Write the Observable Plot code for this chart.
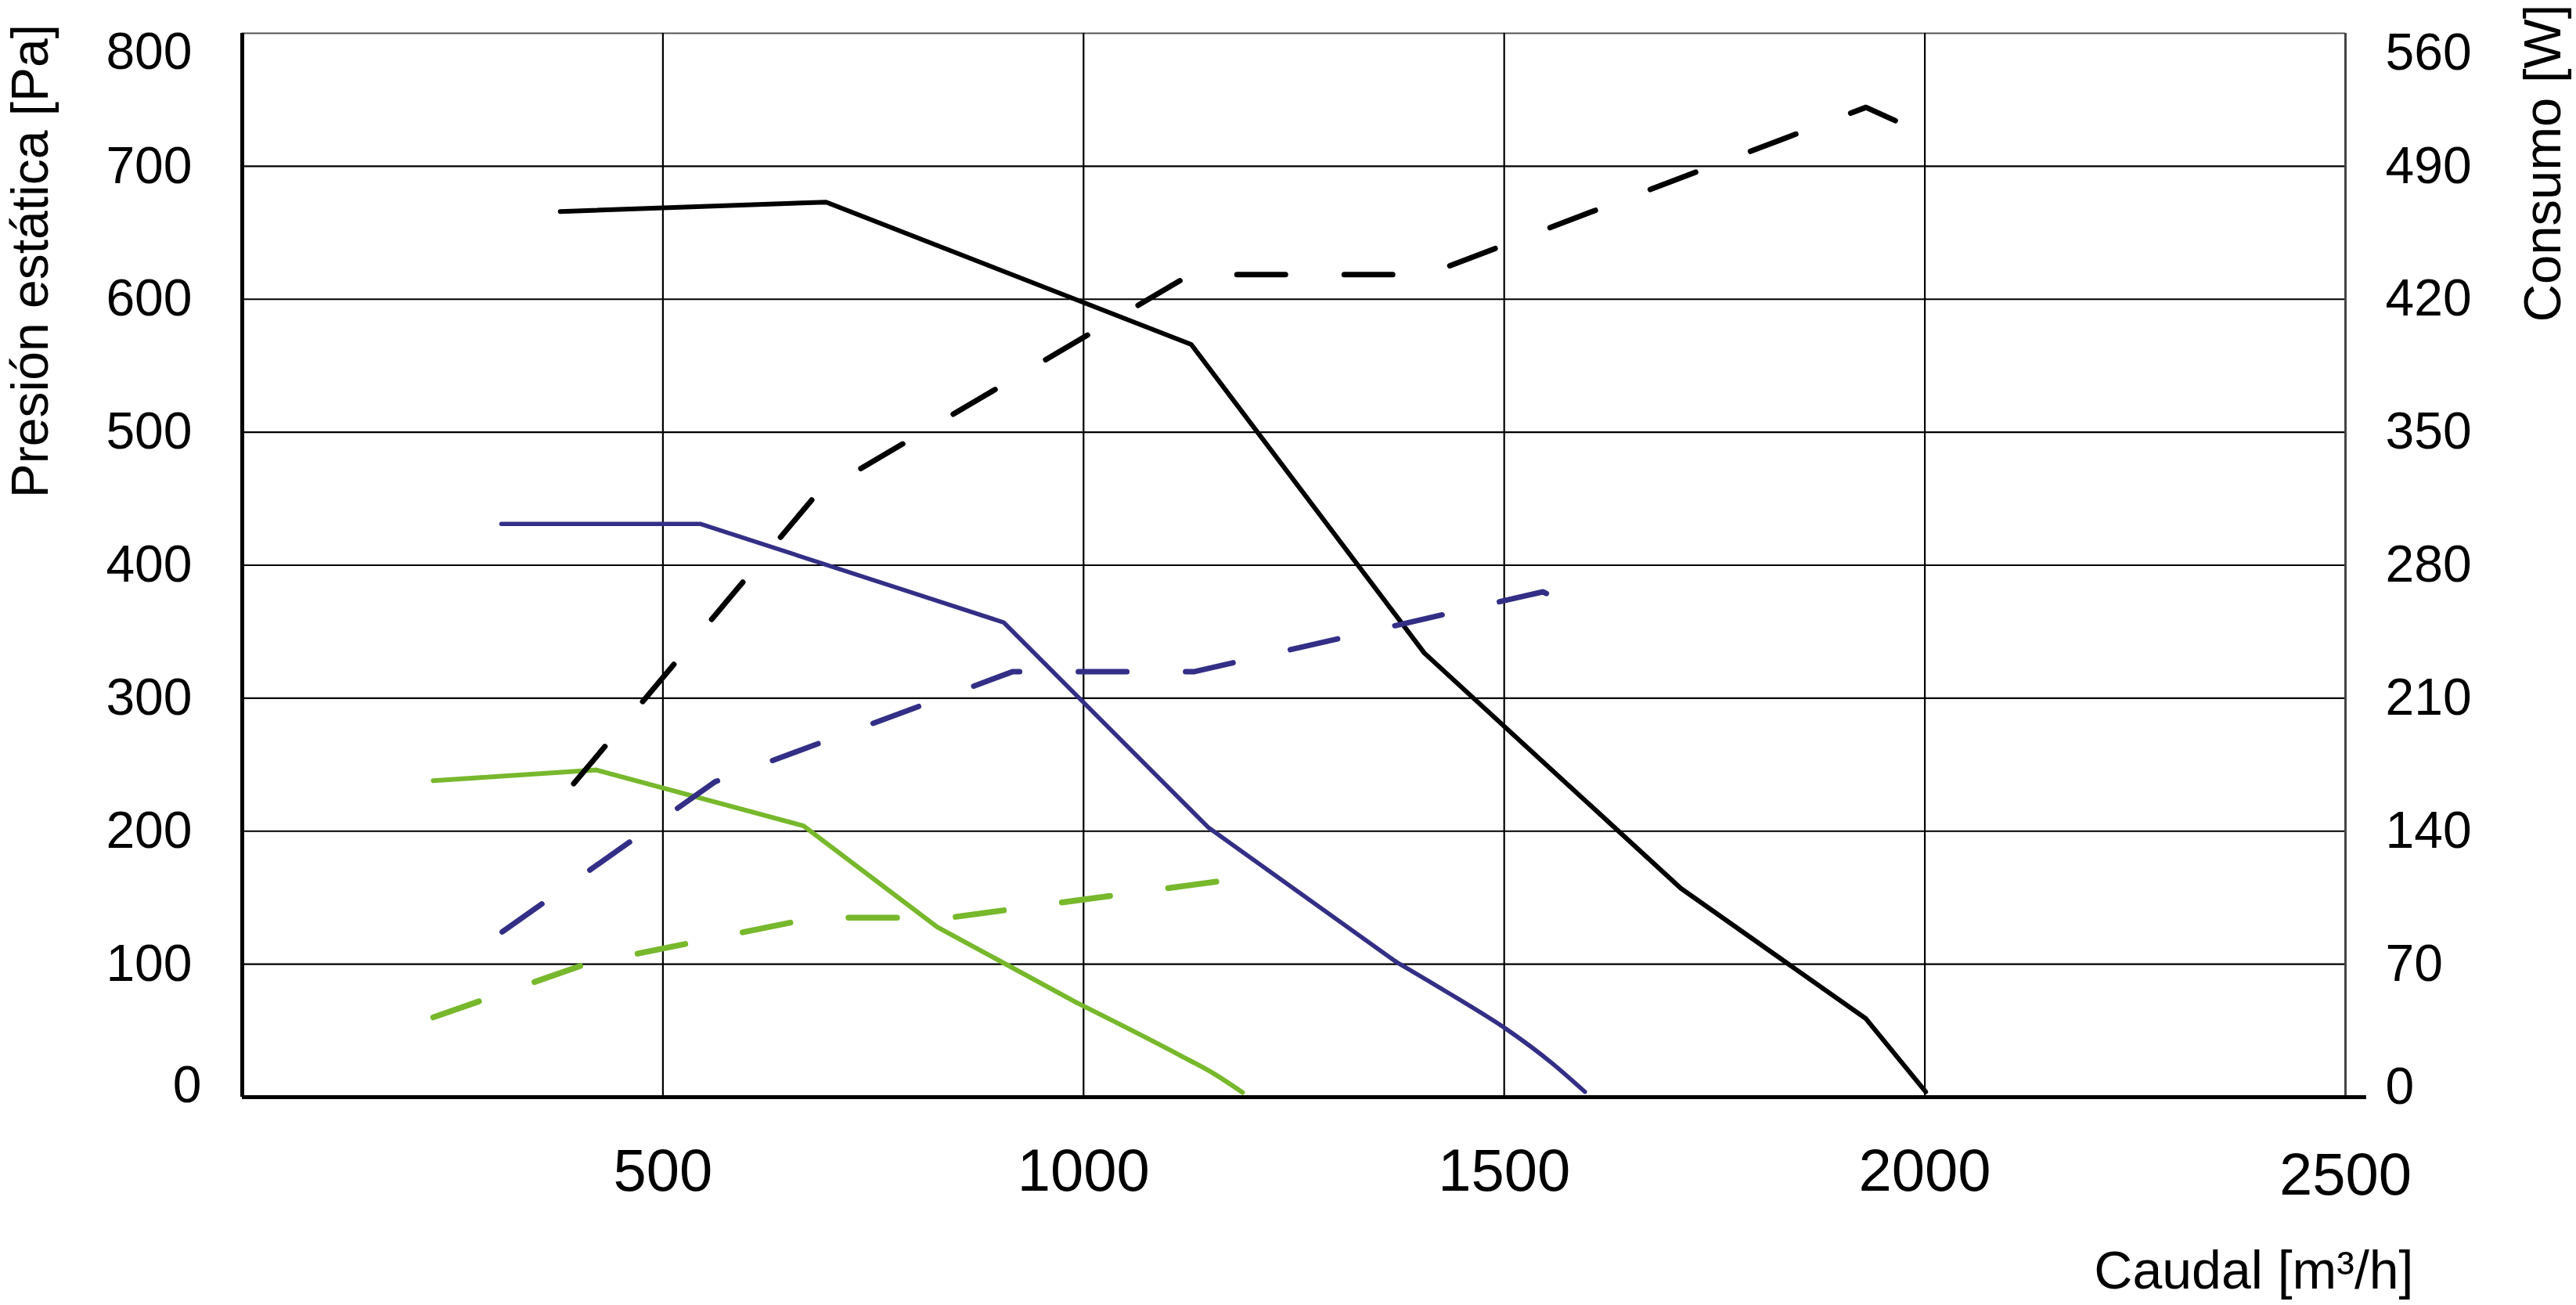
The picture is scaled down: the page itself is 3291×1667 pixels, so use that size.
<!DOCTYPE html>
<html><head><meta charset="utf-8">
<script src="https://cdn.jsdelivr.net/npm/d3@7"></script>
<script src="https://cdn.jsdelivr.net/npm/@observablehq/plot@0.6"></script>
<style>html,body{margin:0;padding:0;background:#fff;} svg{display:block}</style>
</head><body>
<script>
// Tick values
const caudalTicks = [500, 1000, 1500, 2000, 2500];
const presionTicks = [0, 100, 200, 300, 400, 500, 600, 700, 800];
const consumoTicks = [0, 70, 140, 210, 280, 350, 420, 490, 560];

// Presión estática [Pa] vs caudal [m³/h]
const caudalAlta  = [378, 694, 1128, 1405, 1710, 1930, 2001];
const presionAlta = [666, 673, 566, 334, 157, 59, 4];
const caudalMedia  = [308, 545, 905, 1148, 1371, 1440, 1503, 1556, 1596];
const presionMedia = [431, 431, 357, 203, 102, 76, 51, 26, 4];
const caudalBaja  = [227, 421, 667, 826, 992, 1116, 1154, 1189];
const presionBaja = [238, 246, 204, 128, 71, 31, 18, 3.5];

// Consumo [W] vs caudal [m³/h]
const caudalPotAlta = [394, 682, 1127, 1408, 1930, 1975];
const consumoAlta   = [165, 317, 433, 433, 521, 512];
const caudalPotMedia = [309, 562, 916, 1132, 1546, 1560];
const consumoMedia   = [87, 166, 224, 224, 266, 263];
const caudalPotBaja = [227, 408, 681, 841, 1167];
const consumoBaja   = [42, 70, 94.5, 94.5, 114];

const wattsPerPa = 560 / 800;
const serie = (xs, ys) => xs.map((x, i) => ({x, y: ys[i]}));

const negro = "#000000", azul = "#332f86", verde = "#77b82c";
const dash = "62,75";
const solid = {x: "x", y: "y", strokeWidth: 6, strokeLinejoin: "round", strokeLinecap: "round"};
const dashed = {x: "x", y: d => d.y / wattsPerPa, strokeWidth: 7, strokeDasharray: dash, strokeLinecap: "round", strokeLinejoin: "round"};

const media = serie(caudalMedia, presionMedia);
const baja = serie(caudalBaja, presionBaja);

const chart = Plot.plot({
  width: 3291,
  height: 1667,
  marginLeft: 309,
  marginRight: 295,
  marginTop: 42,
  marginBottom: 266,
  x: {domain: [0, 2500], axis: null},
  y: {domain: [0, 800], axis: null},
  style: {fontFamily: "'Liberation Sans', Arial, Helvetica, sans-serif", background: "#fff", color: "#000"},
  marks: [
    // grid
    Plot.ruleY(presionTicks.slice(1, -1), {x1: 0, x2: 2500, stroke: "#000", strokeWidth: 2.2}),
    Plot.ruleY([800], {x1: 0, x2: 2500, stroke: "#555", strokeWidth: 1.8}),
    Plot.ruleX(caudalTicks.slice(0, -1), {y1: 0, y2: 800, stroke: "#000", strokeWidth: 2.2}),
    Plot.ruleX([2500], {y1: 0, y2: 800, stroke: "#444", strokeWidth: 3}),

    // pressure curves (solid)
    Plot.line(serie(caudalAlta, presionAlta), {...solid, stroke: negro}),
    Plot.line(media.slice(0, 5), {...solid, stroke: azul, strokeWidth: 5.5}),
    Plot.line(media.slice(4), {...solid, stroke: azul, strokeWidth: 5.5, curve: "monotone-x"}),
    Plot.line(baja.slice(0, 5), {...solid, stroke: verde}),
    Plot.line(baja.slice(4), {...solid, stroke: verde, curve: "monotone-x"}),

    // power curves (dashed, right axis)
    Plot.line(serie(caudalPotAlta, consumoAlta), {...dashed, stroke: negro}),
    Plot.line(serie(caudalPotMedia, consumoMedia), {...dashed, stroke: azul}),
    Plot.line(serie(caudalPotBaja, consumoBaja), {...dashed, stroke: verde, strokeWidth: 7.5}),

    // axis lines
    Plot.ruleX([0], {y1: 0, y2: 800, stroke: "#000", strokeWidth: 5}),
    Plot.ruleY([0], {x1: 0, x2: 2525, stroke: "#000", strokeWidth: 5}),

    // left axis labels
    Plot.axisY({ticks: presionTicks.slice(1, -1), anchor: "left", tickSize: 0, tickPadding: 64, fontSize: 66, label: null}),
    Plot.axisY({ticks: [800], anchor: "left", tickSize: 0, tickPadding: 64, fontSize: 66, dy: 24, label: null}),
    Plot.axisY({ticks: [0], anchor: "left", tickSize: 0, tickPadding: 52, fontSize: 66, dy: -15, label: null}),

    // right axis labels (consumo)
    Plot.axisY({ticks: presionTicks.slice(1, -1), anchor: "right", tickSize: 0, tickPadding: 51, fontSize: 66, label: null,
      tickFormat: d => String(consumoTicks[presionTicks.indexOf(d)])}),
    Plot.axisY({ticks: [800], anchor: "right", tickSize: 0, tickPadding: 51, fontSize: 66, dy: 25, label: null,
      tickFormat: d => String(consumoTicks[presionTicks.indexOf(d)])}),
    Plot.axisY({ticks: [0], anchor: "right", tickSize: 0, tickPadding: 51, fontSize: 66, dy: -13, label: null,
      tickFormat: d => String(consumoTicks[presionTicks.indexOf(d)])}),

    // x axis labels
    Plot.axisX({ticks: caudalTicks.slice(0, -1), anchor: "bottom", tickSize: 0, tickPadding: 66, fontSize: 76, label: null, tickFormat: d => String(d)}),
    Plot.axisX({ticks: [2500], anchor: "bottom", tickSize: 0, tickPadding: 71, fontSize: 76, label: null, tickFormat: d => String(d)}),

    // axis titles
    Plot.text(["Presión estática [Pa]"], {text: d => d, frameAnchor: "top-left", dx: -249, dy: 291, rotate: -90, textAnchor: "middle", lineAnchor: "bottom", fontSize: 66}),
    Plot.text(["Consumo [W]"], {text: d => d, frameAnchor: "top-right", dx: 274, dy: 166, rotate: -90, textAnchor: "middle", lineAnchor: "bottom", fontSize: 67}),
    Plot.text(["Caudal [m³/h]"], {text: d => d, frameAnchor: "bottom-right", dx: 87, dy: 244, textAnchor: "end", lineAnchor: "bottom", fontSize: 68})
  ]
});
document.body.appendChild(chart);
</script>
</body></html>
